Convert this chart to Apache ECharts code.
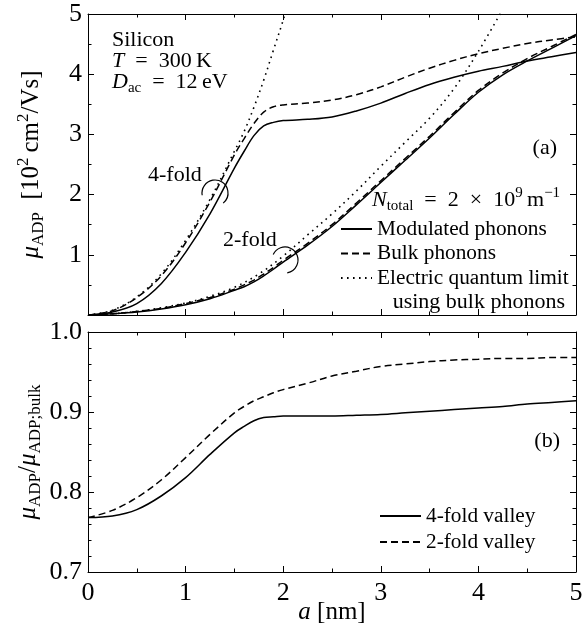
<!DOCTYPE html>
<html>
<head>
<meta charset="utf-8">
<title>ADP mobility vs well width</title>
<script src="https://cdn.jsdelivr.net/npm/echarts@6.0.0/dist/echarts.min.js"></script>
<style>
  html, body { margin: 0; padding: 0; background: #fff; }
  #chart { width: 583px; height: 629px; }
</style>
</head>
<body>
<div id="chart"></div>
<script>
// well width a [nm] (shared by modulated / bulk curves)
const aNm = [0, 0.25, 0.5, 0.75, 1, 1.25, 1.5, 1.6, 1.7, 1.8, 1.9, 2, 2.25, 2.5, 2.75, 3, 3.25, 3.5, 3.75, 4, 4.25, 4.5, 4.75, 5]

// (a) mu_ADP [10^2 cm^2/Vs]
const mod4 = [0, 0.05, 0.19, 0.52, 1.04, 1.68, 2.44, 2.72, 2.98, 3.14, 3.20, 3.23, 3.25, 3.29, 3.39, 3.52, 3.68, 3.83, 3.95, 4.05, 4.13, 4.22, 4.29, 4.36]
const bulk4 = [0, 0.07, 0.29, 0.65, 1.20, 1.88, 2.66, 2.93, 3.18, 3.37, 3.46, 3.49, 3.52, 3.57, 3.66, 3.79, 3.95, 4.10, 4.23, 4.34, 4.43, 4.51, 4.57, 4.62]
const mod2 = [0, 0.02, 0.05, 0.10, 0.17, 0.27, 0.41, 0.47, 0.55, 0.65, 0.76, 0.88, 1.16, 1.47, 1.83, 2.20, 2.57, 2.94, 3.33, 3.70, 3.99, 4.22, 4.43, 4.64]
const bulk2 = [0, 0.02, 0.06, 0.11, 0.19, 0.29, 0.43, 0.50, 0.58, 0.68, 0.79, 0.91, 1.19, 1.50, 1.86, 2.23, 2.60, 2.97, 3.36, 3.73, 4.02, 4.26, 4.46, 4.66]

// electric quantum limit, runs off the top of panel (a)
const eqlA4 = [0, 0.25, 0.5, 0.75, 1, 1.25, 1.5, 1.6, 1.7, 1.8, 1.9, 2.0, 2.1]
const eql4 = [0, 0.08, 0.30, 0.68, 1.24, 1.92, 2.72, 3.05, 3.45, 3.90, 4.40, 4.90, 5.45]
const eqlA2 = [0, 0.25, 0.5, 0.75, 1, 1.25, 1.5, 1.75, 2, 2.25, 2.5, 2.75, 3, 3.25, 3.5, 3.75, 4, 4.25]
const eql2 = [0, 0.02, 0.06, 0.12, 0.20, 0.31, 0.46, 0.68, 0.98, 1.33, 1.68, 2.06, 2.47, 2.87, 3.27, 3.76, 4.38, 5.08]

// (b) mu_ADP / mu_ADP;bulk
const ratio4 = [0.768, 0.770, 0.778, 0.795, 0.818, 0.847, 0.874, 0.882, 0.889, 0.893, 0.894, 0.895, 0.895, 0.895, 0.896, 0.897, 0.899, 0.901, 0.903, 0.905, 0.907, 0.910, 0.912, 0.914]
const ratio2 = [0.768, 0.777, 0.793, 0.815, 0.843, 0.872, 0.899, 0.907, 0.914, 0.919, 0.924, 0.928, 0.936, 0.945, 0.951, 0.957, 0.960, 0.963, 0.965, 0.966, 0.967, 0.967, 0.968, 0.968]

// axis ranges / tick steps
const xRange = [0, 5, 1]
const yRangeA = [0, 5, 1]
const yRangeB = [0.7, 1.0, 0.1]

const serif = 'Liberation Serif'
const pairs = (xs, ys) => xs.map((x, i) => [x, ys[i]])

//通用样式
const tick = {show: true, inside: true, length: 6, lineStyle: {color: '#000', width: 1}}
const line = {show: true, onZero: false, lineStyle: {color: '#000', width: 1}}
const label = {fontFamily: serif, fontSize: 26, color: '#000'}

// rich text for sub/superscripts
const richText = {
  r: {fontFamily: serif, fontSize: 22, lineHeight: 28, color: '#000'},
  i: {fontFamily: serif, fontSize: 22, lineHeight: 28, fontStyle: 'italic', color: '#000'},
  sub: {fontFamily: serif, fontSize: 15, lineHeight: 17, verticalAlign: 'bottom', color: '#000'},
  sup: {fontFamily: serif, fontSize: 15, lineHeight: 16, verticalAlign: 'top', color: '#000'}
}
const richName = {
  r: {fontFamily: serif, fontSize: 25, lineHeight: 32, color: '#000'},
  i: {fontFamily: serif, fontSize: 25, lineHeight: 32, fontStyle: 'italic', color: '#000'},
  sub: {fontFamily: serif, fontSize: 17, lineHeight: 19, verticalAlign: 'bottom', color: '#000'},
  sup: {fontFamily: serif, fontSize: 17, lineHeight: 19, verticalAlign: 'top', color: '#000'}
}

const xAxisOf = (gridIndex, position, showLabel, extra) => Object.assign({
  type: 'value', gridIndex, position,
  min: xRange[0], max: xRange[1], interval: xRange[2],
  axisLine: line, axisTick: tick,
  minorTick: {show: true, splitNumber: 2, length: 3.5, lineStyle: {color: '#000', width: 1}},
  axisLabel: Object.assign({show: showLabel, margin: 8}, label),
  splitLine: {show: false}
}, extra || {})

const yAxisOf = (gridIndex, position, range, minorSplit, showLabel, extra) => Object.assign({
  type: 'value', gridIndex, position,
  min: range[0], max: range[1], interval: range[2],
  axisLine: line, axisTick: tick,
  minorTick: {show: true, splitNumber: minorSplit, length: 3.5, lineStyle: {color: '#000', width: 1}},
  axisLabel: Object.assign({show: showLabel, margin: 6}, label),
  splitLine: {show: false}
}, extra || {})

const curve = (name, xi, data, type) => ({
  name, type: 'line', xAxisIndex: xi, yAxisIndex: xi,
  data, symbol: 'none', showSymbol: false,
  smooth: 0.35,
  itemStyle: {color: '#000'},
  lineStyle: {color: '#000', width: type === 'dotted' ? 1.6 : 1.5,
    type: type === 'dashed' ? [7, 4] : type === 'dotted' ? [1.6, 4.4] : 'solid'},
  emphasis: {disabled: true}
})

const legendBase = {
  orient: 'vertical', padding: 0, itemHeight: 2, selectedMode: false,
  itemStyle: {opacity: 0},
  textStyle: {fontFamily: serif, fontSize: 21.3, color: '#000', lineHeight: 22}
}

const chart = echarts.init(document.getElementById('chart'), null, {renderer: 'canvas'})
const option = {
  backgroundColor: '#fff',
  animation: false,
  grid: [
    {left: 88, top: 14, width: 488, height: 301, outerBoundsMode: 'none'},
    {left: 88, top: 332, width: 488, height: 240, outerBoundsMode: 'none'}
  ],
  xAxis: [
    xAxisOf(0, 'bottom', false),
    xAxisOf(0, 'top', false),
    xAxisOf(1, 'bottom', true, {
      name: '{i|a}{r| [nm]}', nameLocation: 'middle', nameGap: 24, nameMoveOverlap: false,
      nameTextStyle: {rich: richName}
    }),
    xAxisOf(1, 'top', false)
  ],
  yAxis: [
    yAxisOf(0, 'left', yRangeA, 2, true, {
      axisLabel: Object.assign({show: true, margin: 6, formatter: v => (v === 0 ? '' : v)}, label),
      name: '{i|μ}{sub|ADP}{r|\u2002[10}{sup|2}{r|\u2009cm}{sup|2}{r|/Vs]}',
      nameLocation: 'middle', nameRotate: 90, nameGap: 41, nameMoveOverlap: false,
      nameTextStyle: {rich: richName}
    }),
    yAxisOf(0, 'right', yRangeA, 2, false),
    yAxisOf(1, 'left', yRangeB, 5, true, {
      axisLabel: Object.assign({show: true, margin: 6, formatter: v => v.toFixed(1)}, label),
      name: '{i|μ}{sub|ADP}{r|/}{i|μ}{sub|ADP;bulk}',
      nameLocation: 'middle', nameRotate: 90, nameGap: 44, nameMoveOverlap: false,
      nameTextStyle: {rich: richName}
    }),
    yAxisOf(1, 'right', yRangeB, 5, false)
  ],
  legend: [
    Object.assign({}, legendBase, {
      data: ['Modulated phonons', 'Bulk phonons', 'Electric quantum limit'],
      left: 340, top: 218, itemWidth: 31, itemGap: 2.5
    }),
    Object.assign({}, legendBase, {
      data: ['4-fold valley', '2-fold valley'],
      left: 379, top: 505, itemWidth: 41, itemGap: 4
    })
  ],
  series: [
    curve('Electric quantum limit', 0, pairs(eqlA4, eql4), 'dotted'),
    curve('Electric quantum limit', 0, pairs(eqlA2, eql2), 'dotted'),
    curve('Bulk phonons', 0, pairs(aNm, bulk4), 'dashed'),
    curve('Bulk phonons', 0, pairs(aNm, bulk2), 'dashed'),
    curve('Modulated phonons', 0, pairs(aNm, mod4), 'solid'),
    curve('Modulated phonons', 0, pairs(aNm, mod2), 'solid'),
    curve('4-fold valley', 2, pairs(aNm, ratio4), 'solid'),
    curve('2-fold valley', 2, pairs(aNm, ratio2), 'dashed')
  ],
  graphic: [
    {type: 'text', x: 112, y: 40, style: {text: 'Silicon', font: '22px "Liberation Serif"', fill: '#000', align: 'left', verticalAlign: 'middle'}},
    {type: 'text', x: 112, y: 61, style: {text: '{i|T}{r|\u2002=\u2002300\u2009K}', rich: richText, align: 'left', verticalAlign: 'middle'}},
    {type: 'text', x: 112, y: 82, style: {text: '{i|D}{sub|ac}{r|\u2002=\u200212\u2009eV}', rich: richText, align: 'left', verticalAlign: 'middle'}},
    {type: 'text', x: 557, y: 148, style: {text: '(a)', font: '22px "Liberation Serif"', fill: '#000', align: 'right', verticalAlign: 'middle'}},
    {type: 'text', x: 148, y: 175, style: {text: '4-fold', font: '22px "Liberation Serif"', fill: '#000', align: 'left', verticalAlign: 'middle'}},
    {type: 'arc', shape: {cx: 215, cy: 193, r: 13, startAngle: 170 * Math.PI / 180, endAngle: 51 * Math.PI / 180, clockwise: true},
      style: {stroke: '#000', fill: 'none', lineWidth: 1.2}},
    {type: 'text', x: 223, y: 240, style: {text: '2-fold', font: '22px "Liberation Serif"', fill: '#000', align: 'left', verticalAlign: 'middle'}},
    {type: 'arc', shape: {cx: 285, cy: 260, r: 13, startAngle: 205 * Math.PI / 180, endAngle: 80 * Math.PI / 180, clockwise: true},
      style: {stroke: '#000', fill: 'none', lineWidth: 1.2}},
    {type: 'text', x: 372, y: 200, style: {text: '{i|N}{sub|total}{r|\u2002=\u20022\u2002×\u200210}{sup|9}{r|\u2009m}{sup|−1}', rich: richText, align: 'left', verticalAlign: 'middle'}},
    {type: 'text', x: 565, y: 302, style: {text: 'using bulk phonons', font: '22px "Liberation Serif"', fill: '#000', align: 'right', verticalAlign: 'middle'}},
    {type: 'text', x: 560, y: 441, style: {text: '(b)', font: '22px "Liberation Serif"', fill: '#000', align: 'right', verticalAlign: 'middle'}}
  ]
}
chart.setOption(option)
</script>
</body>
</html>
